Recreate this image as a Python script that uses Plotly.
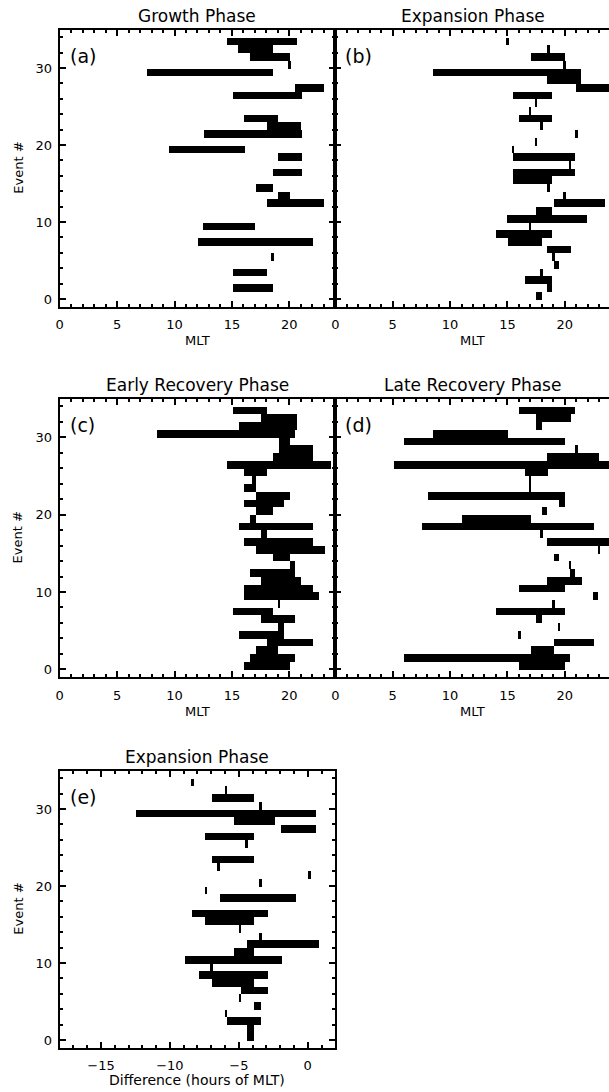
import plotly.graph_objects as go

# ---------------- data (event index, MLT start, MLT end) ----------------
a_event = [33, 32, 31, 30, 29, 27, 26, 23, 22, 21, 19, 18, 16, 14, 13, 12, 9, 7, 5, 3, 1]
a_start = [14.5, 15.5, 16.5, 19.85, 7.55, 20.5, 15.05, 16.0, 18.0, 12.55, 9.5, 19.0, 18.5, 17.05, 19.0, 18.0, 12.45, 12.05, 18.4, 15.05, 15.05]
a_end = [20.6, 18.5, 20.0, 20.1, 18.55, 23.0, 21.1, 19.0, 21.0, 21.1, 16.1, 21.1, 21.1, 18.55, 20.0, 23.0, 17.0, 22.0, 18.65, 18.05, 18.55]

b_event = [33, 32, 31, 30, 29, 28, 27, 26, 25, 24, 23, 22, 21, 20, 19, 18, 17, 16, 15, 14, 13, 12, 11, 10, 9, 8, 7, 6, 5, 4, 3, 2, 1, 0]
b_start = [14.9, 18.45, 17.05, 19.9, 8.55, 18.5, 21.0, 15.5, 17.4, 16.9, 16.0, 17.9, 20.9, 17.4, 15.4, 15.5, 20.4, 15.5, 15.5, 18.45, 19.9, 19.05, 17.5, 15.0, 16.9, 14.05, 15.1, 18.5, 18.95, 19.05, 17.9, 16.55, 18.5, 17.55]
b_end = [15.15, 18.7, 20.0, 20.1, 21.45, 21.45, 24.0, 18.95, 17.6, 17.1, 18.95, 18.15, 21.15, 17.6, 15.6, 20.95, 20.6, 20.95, 18.95, 18.7, 20.1, 23.55, 18.95, 22.0, 17.1, 18.95, 18.05, 20.55, 19.2, 19.55, 18.15, 18.95, 18.95, 18.05]

c_event = [33, 32, 31, 30, 29, 28, 27, 26, 25, 24, 23, 22, 21, 20, 19, 18, 17, 16, 15, 14, 13, 12, 11, 10, 9, 8, 7, 6, 5, 4, 3, 2, 1, 0]
c_start = [15.05, 17.5, 15.55, 8.45, 19.1, 19.1, 18.5, 14.5, 16.0, 16.7, 16.0, 17.05, 16.0, 17.05, 16.55, 15.55, 17.5, 16.0, 17.05, 18.5, 20.0, 16.55, 17.5, 16.0, 16.0, 18.95, 15.05, 17.5, 19.0, 15.55, 18.0, 17.05, 16.55, 16.0]
c_end = [18.05, 20.6, 20.6, 20.45, 20.0, 22.0, 22.0, 23.6, 18.05, 17.05, 17.05, 20.0, 19.5, 18.55, 17.05, 22.0, 18.05, 22.0, 23.05, 20.0, 20.5, 20.5, 21.0, 22.0, 22.55, 19.15, 18.55, 20.5, 19.5, 19.5, 22.0, 19.0, 20.5, 20.0]

d_event = [33, 32, 31, 30, 29, 28, 27, 26, 25, 24, 23, 22, 21, 20, 19, 18, 17, 16, 15, 14, 13, 12, 11, 10, 9, 8, 7, 6, 5, 4, 3, 2, 1, 0]
d_start = [16.0, 17.55, 17.55, 8.55, 6.05, 20.9, 18.5, 5.1, 16.55, 16.9, 16.9, 8.1, 19.55, 18.0, 11.05, 7.6, 17.9, 18.5, 22.9, 19.05, 20.4, 20.5, 18.5, 16.0, 22.45, 18.95, 14.05, 17.55, 19.4, 15.95, 19.05, 17.05, 6.05, 16.0]
d_end = [20.95, 20.55, 18.05, 15.05, 20.05, 21.15, 23.0, 24.0, 18.55, 17.1, 17.1, 20.05, 20.05, 18.5, 17.05, 22.55, 18.15, 24.0, 23.1, 19.55, 20.6, 20.95, 21.5, 20.05, 22.95, 19.2, 20.05, 18.05, 19.6, 16.2, 22.55, 19.05, 20.5, 20.05]

e_event = [33, 32, 31, 30, 29, 28, 27, 26, 25, 23, 22, 21, 20, 19, 18, 16, 15, 14, 13, 12, 11, 10, 9, 8, 7, 6, 5, 4, 3, 2, 1, 0]
e_start = [-8.5, -6.05, -6.95, -3.55, -12.5, -5.4, -1.95, -7.45, -4.55, -6.95, -6.6, 0.0, -3.55, -7.5, -6.4, -8.45, -7.45, -5.05, -3.55, -4.4, -5.4, -8.95, -7.1, -7.95, -6.95, -4.9, -5.05, -3.95, -6.05, -5.9, -4.4, -4.4]
e_end = [-8.3, -5.85, -3.95, -3.35, 0.55, -2.4, 0.55, -3.95, -4.35, -3.95, -6.4, 0.2, -3.35, -7.3, -0.9, -2.9, -3.95, -4.85, -3.35, 0.8, -3.95, -1.9, -6.9, -2.9, -3.95, -2.9, -4.85, -3.45, -5.85, -3.45, -3.95, -3.95]

titles = ["Growth Phase", "Expansion Phase", "Early Recovery Phase", "Late Recovery Phase", "Expansion Phase"]
labels = ["(a)", "(b)", "(c)", "(d)", "(e)"]
xtitles = ["MLT", "MLT", "MLT", "MLT", "Difference (hours of MLT)"]
ytitle = "Event #"

panels = [
    (a_event, a_start, a_end),
    (b_event, b_start, b_end),
    (c_event, c_start, c_end),
    (d_event, d_start, d_end),
    (e_event, e_start, e_end),
]

W, H = 609, 1092
FONT = "DejaVu Sans"

# pixel boxes: (left, right, top, bottom)
boxes = [
    (56, 333.5, 29.5, 306.7),
    (333.5, 609, 29.5, 306.7),
    (56, 333.5, 398.7, 677.0),
    (333.5, 609, 398.7, 677.0),
    (56, 333.5, 770.5, 1047.7),
]
xranges = [[0, 24], [0, 23.85], [0, 24], [0, 23.85], [-18, 2]]

fig = go.Figure()
annotations = []
for k, ((ev, st, en), box) in enumerate(zip(panels, boxes)):
    n = k + 1
    xa = "x" if n == 1 else f"x{n}"
    ya = "y" if n == 1 else f"y{n}"
    fig.add_trace(go.Bar(
        orientation="h",
        y=ev,
        base=st,
        x=[e - s for s, e in zip(st, en)],
        width=1, offset=0,
        marker=dict(color="black", line=dict(width=0)),
        xaxis=xa, yaxis=ya, showlegend=False, hoverinfo="skip",
    ))
    l, r, t, b = box
    right_open = k in (1, 3)
    xkw = dict(
        domain=[l / W, r / W], range=xranges[k], anchor=ya,
        showgrid=False, zeroline=False, showline=True, linecolor="black", linewidth=2,
        mirror="allticks", ticks="inside", ticklen=6, tickwidth=1.5, tickcolor="black",
        dtick=5, tick0=0,
        minor=dict(dtick=1, ticks="inside", ticklen=3, tickwidth=1.5, tickcolor="black", showgrid=False),
        tickfont=dict(family=FONT, size=13, color="black"),
        ticklabelstandoff=5,
    )
    ykw = dict(
        domain=[1 - b / H, 1 - t / H], range=[-1, 35], anchor=xa,
        showgrid=False, zeroline=False, showline=True, linecolor="black", linewidth=2,
        mirror=False if right_open else "allticks",
        ticks="inside", ticklen=6, tickwidth=1.5, tickcolor="black",
        dtick=10, tick0=0,
        minor=dict(dtick=2, ticks="inside", ticklen=3, tickwidth=1.5, tickcolor="black", showgrid=False),
        showticklabels=not right_open,
        tickfont=dict(family=FONT, size=13, color="black"),
        ticklabelstandoff=3,
    )
    fig.update_layout(**{("xaxis" if n == 1 else f"xaxis{n}"): xkw,
                         ("yaxis" if n == 1 else f"yaxis{n}"): ykw})
    xd = f"{xa} domain"
    yd = f"{ya} domain"
    # title
    annotations.append(dict(text=titles[k], xref=xd, yref=yd, x=138.5 / (r - l),
                            y=1, yanchor="middle", yshift=14, showarrow=False,
                            font=dict(family=FONT, size=17, color="black")))
    # panel label
    annotations.append(dict(text=labels[k], xref=xd, yref=yd, x=8 / (r - l), y=(b - t - 26.5) / (b - t),
                            xanchor="left", yanchor="middle", showarrow=False,
                            font=dict(family=FONT, size=19, color="black")))
    # x title
    annotations.append(dict(text=xtitles[k], xref=xd, yref=yd, x=138.5 / (r - l), y=0,
                            xanchor="center", yanchor="middle", yshift=-34 if k < 4 else -32, showarrow=False,
                            font=dict(family=FONT, size=13 if k < 4 else 14, color="black")))
    if not right_open:
        annotations.append(dict(text=ytitle, xref=xd, yref=yd, x=0, y=0.5, textangle=-90,
                                xanchor="center", yanchor="middle", xshift=-42, showarrow=False,
                                font=dict(family=FONT, size=13, color="black")))

fig.update_layout(
    width=W, height=H, margin=dict(l=0, r=0, t=0, b=0),
    paper_bgcolor="white", plot_bgcolor="white",
    annotations=annotations, bargap=0,
)
fig.write_html("out.html")
